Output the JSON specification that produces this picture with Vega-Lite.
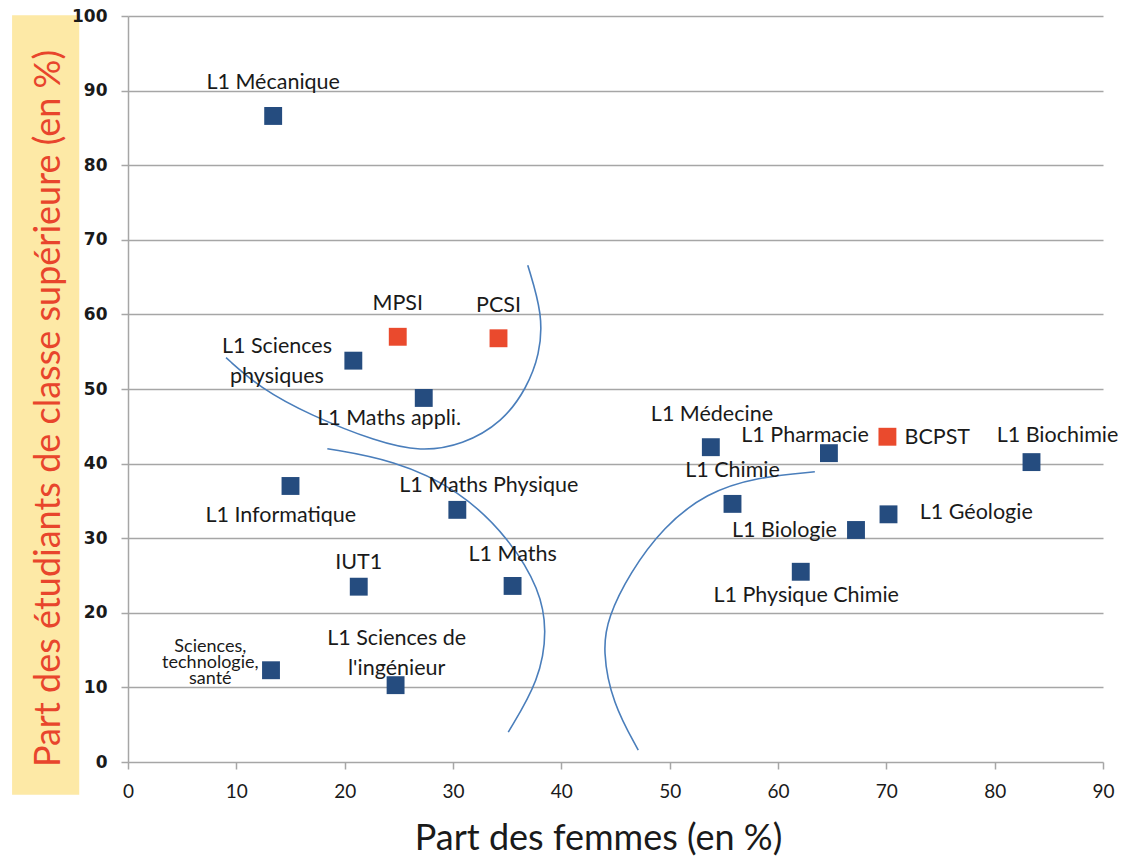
{
  "$schema": "https://vega.github.io/schema/vega-lite/v6.json",
  "width": 975,
  "height": 746,
  "autosize": "none",
  "padding": {"left": 128, "top": 16, "right": 27, "bottom": 96},
  "background": "white",
  "config": {
    "view": {"stroke": null},
    "axis": {
      "domainColor": "#a6a6a6",
      "domainWidth": 1.5,
      "tickColor": "#a6a6a6",
      "tickWidth": 1.5,
      "tickSize": 7,
      "gridColor": "#a6a6a6",
      "gridWidth": 1.5,
      "labelFlush": false
    },
    "axisX": {
      "labelFont": "Lato",
      "labelFontSize": 19,
      "labelColor": "#1a1a1a",
      "labelPadding": 13,
      "titleFont": "Lato",
      "titleFontSize": 36,
      "titleFontWeight": "normal",
      "titleColor": "#1a1a1a",
      "titleX": 470,
      "titleY": 76,
      "titleBaseline": "middle",
      "titleAlign": "center"
    }
  },
  "datasets": {
    "points": [
      {"name": "L1 Mécanique", "label": "L1 Mécanique", "type": "Université", "femmes": 13.4, "sup": 86.6, "lx": 13.4, "ly": 91.0},
      {"name": "MPSI", "label": "MPSI", "type": "Classe préparatoire", "femmes": 24.9, "sup": 57.0, "lx": 24.9, "ly": 61.4},
      {"name": "PCSI", "label": "PCSI", "type": "Classe préparatoire", "femmes": 34.2, "sup": 56.8, "lx": 34.2, "ly": 61.1},
      {"name": "L1 Sciences physiques", "label": "L1 Sciences\nphysiques", "type": "Université", "femmes": 20.8, "sup": 53.8, "lx": 13.75, "ly": 55.6},
      {"name": "L1 Maths appli.", "label": "L1 Maths appli.", "type": "Université", "femmes": 27.3, "sup": 48.8, "lx": 24.1, "ly": 46.0},
      {"name": "L1 Informatique", "label": "L1 Informatique", "type": "Université", "femmes": 15.0, "sup": 37.0, "lx": 14.1, "ly": 33.0},
      {"name": "L1 Maths Physique", "label": "L1 Maths Physique", "type": "Université", "femmes": 30.4, "sup": 33.8, "lx": 33.3, "ly": 37.0},
      {"name": "IUT1", "label": "IUT1", "type": "Université", "femmes": 21.3, "sup": 23.5, "lx": 21.3, "ly": 26.7},
      {"name": "L1 Maths", "label": "L1 Maths", "type": "Université", "femmes": 35.5, "sup": 23.6, "lx": 35.5, "ly": 27.7},
      {"name": "Sciences, technologie, santé", "label": "Sciences,\ntechnologie,\nsanté", "type": "Université", "femmes": 13.2, "sup": 12.3, "lx": 7.6, "ly": 15.4},
      {"name": "L1 Sciences de l'ingénieur", "label": "L1 Sciences de\nl'ingénieur", "type": "Université", "femmes": 24.7, "sup": 10.3, "lx": 24.8, "ly": 16.55},
      {"name": "L1 Médecine", "label": "L1 Médecine", "type": "Université", "femmes": 53.8, "sup": 42.2, "lx": 53.9, "ly": 46.5},
      {"name": "L1 Pharmacie", "label": "L1 Pharmacie", "type": "Université", "femmes": 64.7, "sup": 41.4, "lx": 62.5, "ly": 43.7},
      {"name": "BCPST", "label": "BCPST", "type": "Classe préparatoire", "femmes": 70.1, "sup": 43.6, "lx": 74.7, "ly": 43.4},
      {"name": "L1 Biochimie", "label": "L1 Biochimie", "type": "Université", "femmes": 83.4, "sup": 40.2, "lx": 85.8, "ly": 43.7},
      {"name": "L1 Chimie", "label": "L1 Chimie", "type": "Université", "femmes": 55.8, "sup": 34.6, "lx": 55.8, "ly": 39.0},
      {"name": "L1 Géologie", "label": "L1 Géologie", "type": "Université", "femmes": 70.2, "sup": 33.2, "lx": 78.3, "ly": 33.4},
      {"name": "L1 Biologie", "label": "L1 Biologie", "type": "Université", "femmes": 67.2, "sup": 31.1, "lx": 60.6, "ly": 31.0},
      {"name": "L1 Physique Chimie", "label": "L1 Physique Chimie", "type": "Université", "femmes": 62.1, "sup": 25.5, "lx": 62.6, "ly": 22.3}
    ],
    "curves": [
      {"curve": "A", "i": 1, "x": 9.05, "y": 54.2},
      {"curve": "A", "i": 2, "x": 12.2, "y": 50.1},
      {"curve": "A", "i": 3, "x": 16.8, "y": 46.5},
      {"curve": "A", "i": 4, "x": 23.0, "y": 42.9},
      {"curve": "A", "i": 5, "x": 27.0, "y": 41.6},
      {"curve": "A", "i": 6, "x": 30.9, "y": 42.5},
      {"curve": "A", "i": 7, "x": 34.6, "y": 45.6},
      {"curve": "A", "i": 8, "x": 36.8, "y": 50.1},
      {"curve": "A", "i": 9, "x": 38.0, "y": 54.6},
      {"curve": "A", "i": 10, "x": 38.3, "y": 59.9},
      {"curve": "A", "i": 11, "x": 36.9, "y": 66.6},
      {"curve": "B", "i": 1, "x": 18.4, "y": 42.0},
      {"curve": "B", "i": 2, "x": 24.5, "y": 40.5},
      {"curve": "B", "i": 3, "x": 30.6, "y": 36.5},
      {"curve": "B", "i": 4, "x": 35.3, "y": 29.8},
      {"curve": "B", "i": 5, "x": 38.0, "y": 23.1},
      {"curve": "B", "i": 6, "x": 38.7, "y": 17.7},
      {"curve": "B", "i": 7, "x": 38.0, "y": 11.0},
      {"curve": "B", "i": 8, "x": 35.1, "y": 4.0},
      {"curve": "C", "i": 1, "x": 63.4, "y": 38.9},
      {"curve": "C", "i": 2, "x": 58.1, "y": 38.2},
      {"curve": "C", "i": 3, "x": 53.4, "y": 36.1},
      {"curve": "C", "i": 4, "x": 49.4, "y": 31.5},
      {"curve": "C", "i": 5, "x": 46.3, "y": 25.3},
      {"curve": "C", "i": 6, "x": 44.3, "y": 19.4},
      {"curve": "C", "i": 7, "x": 43.8, "y": 15.0},
      {"curve": "C", "i": 8, "x": 44.7, "y": 7.9},
      {"curve": "C", "i": 9, "x": 47.1, "y": 1.6}
    ],
    "box": [
      {"x": -10.7, "x2": -4.5, "y": -4.4, "y2": 100.1}
    ]
  },
  "layer": [
    {
      "data": {"name": "box"},
      "mark": {"type": "rect", "color": "#fde9a6"},
      "encoding": {
        "x": {"field": "x", "type": "quantitative", "scale": {"domain": [0, 90], "nice": false}, "axis": {"values": [0, 10, 20, 30, 40, 50, 60, 70, 80, 90], "grid": false}, "title": "Part des femmes (en %)"},
        "x2": {"field": "x2"},
        "y": {"field": "y", "type": "quantitative", "scale": {"domain": [0, 100], "nice": false},
          "axis": {
            "orient": "left",
            "zindex": 1,
            "grid": false,
            "values": [0, 10, 20, 30, 40, 50, 60, 70, 80, 90, 100],
            "labelFont": "DejaVu Sans",
            "labelFontWeight": "bold",
            "labelFontSize": 17,
            "labelColor": "#1a1a1a",
            "labelPadding": 14,
            "title": "Part des étudiants de classe supérieure (en %)",
            "titleFont": "Lato",
            "titleFontSize": 36,
            "titleFontWeight": "normal",
            "titleColor": "#e8452c",
            "titleX": -80,
            "titleY": 392,
            "titleAlign": "center",
            "titleBaseline": "middle",
            "titleAngle": -90
          }
        },
        "y2": {"field": "y2"}
      }
    },
    {
      "data": {"name": "curves"},
      "mark": {"type": "line", "interpolate": "basis", "color": "#4a7ebb", "strokeWidth": 1.6},
      "encoding": {
        "x": {"field": "x", "type": "quantitative", "title": "Part des femmes (en %)"},
        "y": {"field": "y", "type": "quantitative", "axis": null},
        "detail": {"field": "curve"},
        "order": {"field": "i", "type": "quantitative"}
      }
    },
    {
      "data": {"name": "points"},
      "mark": {"type": "point", "shape": "square", "filled": true, "size": 320, "opacity": 1},
      "encoding": {
        "x": {"field": "femmes", "type": "quantitative", "title": "Part des femmes (en %)"},
        "y": {"field": "sup", "type": "quantitative",
          "axis": {"orient": "left", "zindex": 0, "grid": true, "values": [10, 20, 30, 40, 50, 60, 70, 80, 90, 100], "labels": false, "ticks": false, "domain": false, "title": null}
        },
        "color": {"field": "type", "type": "nominal", "scale": {"domain": ["Université", "Classe préparatoire"], "range": ["#254c7f", "#ea4a2d"]}, "legend": null}
      }
    },
    {
      "data": {"name": "points"},
      "transform": [{"filter": "datum.name !== 'Sciences, technologie, santé'"}],
      "mark": {"type": "text", "font": "Lato", "fontSize": 21.5, "lineHeight": 30, "lineBreak": "\n", "align": "center", "baseline": "middle", "color": "#1a1a1a"},
      "encoding": {
        "x": {"field": "lx", "type": "quantitative", "title": "Part des femmes (en %)"},
        "y": {"field": "ly", "type": "quantitative", "axis": null},
        "text": {"field": "label"}
      }
    },
    {
      "data": {"name": "points"},
      "transform": [{"filter": "datum.name === 'Sciences, technologie, santé'"}],
      "mark": {"type": "text", "font": "Lato", "fontSize": 18, "lineHeight": 16, "lineBreak": "\n", "align": "center", "baseline": "middle", "color": "#1a1a1a"},
      "encoding": {
        "x": {"field": "lx", "type": "quantitative", "title": "Part des femmes (en %)"},
        "y": {"field": "ly", "type": "quantitative", "axis": null},
        "text": {"field": "label"}
      }
    }
  ],
  "resolve": {"axis": {"y": "independent"}}
}
